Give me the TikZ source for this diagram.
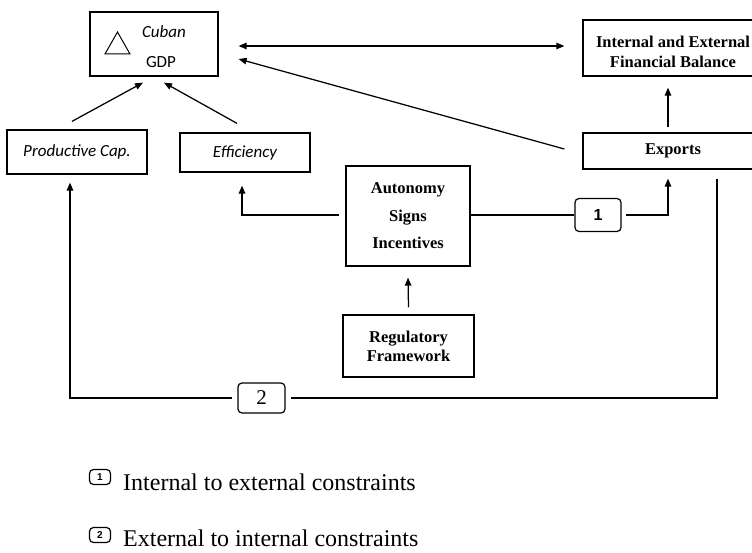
\documentclass[tikz,border=0pt]{standalone}
\usepackage{fontspec}
\setmainfont{Liberation Serif}
\newfontfamily\calfont{Carlito}
\newfontfamily\arialfont{Liberation Sans}
\usetikzlibrary{arrows.meta}
\begin{document}
\begin{tikzpicture}[x=1pt,y=-1pt,
  box/.style={draw,line width=1.25pt,inner sep=0pt,align=center},
  serifbox/.style={box,font=\bfseries\fontsize{16.5}{19}\selectfont},
  sansbox/.style={box,font=\calfont\itshape\fontsize{17}{20}\selectfont},
  numbox/.style={draw,line width=1.2pt,rounded corners=4pt,inner sep=0pt},
  conn/.style={line width=1.25pt},
  arr/.style={conn,-{Triangle[length=8pt,width=6.5pt]}},
  dblarr/.style={conn,{Triangle[length=8pt,width=6.5pt]}-{Triangle[length=8pt,width=6.5pt]}},
  legtext/.style={anchor=base west,inner sep=0pt,font=\fontsize{24}{27}\selectfont},
]
\useasboundingbox (0,0) rectangle (752,553);

% boxes
\node[box,minimum width=128pt,minimum height=64pt] (gdp) at (154,44) {};
\node[inner sep=0pt,font=\calfont\itshape\fontsize{17}{20}\selectfont] (cuban) at (164,32) {Cuban};
\node[inner sep=0pt,font=\calfont\fontsize{17}{20}\selectfont] (gdptxt) at (161,62) {GDP};
\draw[line width=1pt] (105,54) -- (117.5,32) -- (130,54) -- cycle;

\node[box,minimum width=180pt,minimum height=56pt] (fin) at (673,48) {};
\node[inner sep=0pt,align=center,font=\bfseries\fontsize{16.5}{20}\selectfont] (fintxt) at (673,52) {Internal and External\\Financial Balance};
\node[sansbox,minimum width=140pt,minimum height=44pt] (prod) at (77,152) {Productive Cap.};
\node[sansbox,minimum width=130pt,minimum height=39pt] (eff) at (245,152.5) {Efficiency};
\node[serifbox,minimum width=180pt,minimum height=36pt] (exp) at (673,151) {Exports};
\node[box,minimum width=124pt,minimum height=100pt,font=\bfseries\fontsize{16.5}{27.5}\selectfont] (auto) at (408,216) {Autonomy\\Signs\\Incentives};
\node[numbox,minimum width=46pt,minimum height=33pt,font=\arialfont\bfseries\fontsize{16}{16}\selectfont] (b1) at (598,215) {1};
\node[serifbox,minimum width=131pt,minimum height=62pt] (reg) at (408.5,346) {Regulatory\\Framework};
\node[numbox,minimum width=47pt,minimum height=30pt,font=\fontsize{21}{21}\selectfont] (b2) at (261.5,398) {2};

% connectors
\draw[dblarr] ([xshift=20pt,yshift=-2pt]gdp.east) -- ([xshift=-18pt,yshift=2pt]fin.west);
\draw[arr] ([xshift=-18pt,yshift=2pt]exp.west) -- ([xshift=20pt,yshift=-15pt]gdp.east);
\draw[arr] ([xshift=-5pt,yshift=8pt]prod.north) -- ([xshift=-11pt,yshift=-6pt]gdp.south);
\draw[arr] ([xshift=-8pt,yshift=9pt]eff.north) -- ([xshift=10pt,yshift=-6pt]gdp.south);
\draw[arr] ([xshift=-6pt,yshift=1pt]auto.west) -| ([xshift=-3pt,yshift=-13pt]eff.south);
\draw[conn] (auto.east |- b1.west) -- (b1.west);
\draw[arr] ([xshift=4pt]b1.east) -| ([xshift=-5pt,yshift=-9pt]exp.south);
\draw[arr] ([yshift=7pt]reg.north) -- ([yshift=-11pt]auto.south);
\draw[arr] ([xshift=-5pt,yshift=5pt]exp.north) -- ([xshift=-5pt,yshift=-11pt]fin.south);
\draw[conn] ([xshift=44pt,yshift=-9pt]exp.south) |- ([xshift=5pt]b2.east);
\draw[arr] ([xshift=-5pt]b2.west) -| ([xshift=-7pt,yshift=-8pt]prod.south);

% legend
\node[numbox,minimum width=21pt,minimum height=15pt,font=\arialfont\bfseries\fontsize{10}{10}\selectfont] (k1) at (100,477) {1};
\node[numbox,minimum width=21pt,minimum height=15pt,font=\arialfont\bfseries\fontsize{10}{10}\selectfont] (k2) at (100,535) {2};
\node[legtext] (t1) at (123,490) {Internal to external constraints};
\node[legtext] (t2) at (123,546) {External to internal constraints};
\end{tikzpicture}
\end{document}
